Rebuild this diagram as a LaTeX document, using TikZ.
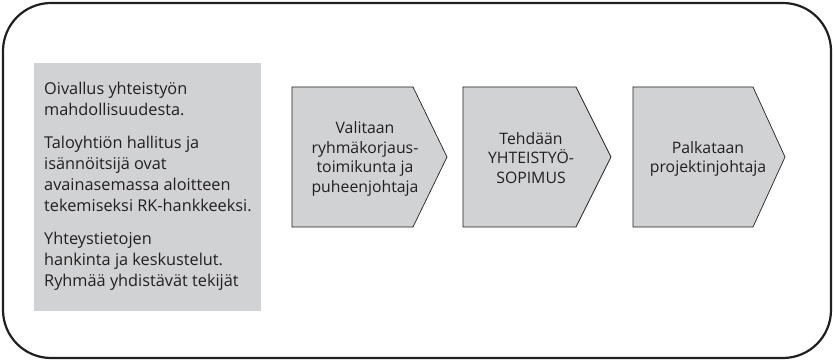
\documentclass[tikz,border=0pt]{standalone}
\usepackage{fontspec}
\setmainfont{Open Sans}
\definecolor{boxgray}{HTML}{D1D2D4}
\definecolor{inkgray}{HTML}{231F20}
\tikzset{
  steptext/.style={align=center, text=inkgray, inner sep=0pt,
    font=\fontsize{15.8}{19.5}\selectfont},
  notetext/.style={align=left, anchor=north west, text=inkgray, inner sep=0pt,
    font=\fontsize{16.3}{21}\selectfont},
}
\begin{document}
\begin{tikzpicture}[x=1pt,y=-1pt]
    \useasboundingbox (0,0) rectangle (834,363);
    % outer frame
    \draw[inkgray, line width=2.2pt, rounded corners=48pt] (3,3) rectangle (831,358);
    % grey note box
    \fill[boxgray] (34,63) rectangle (261,311);
    \node[notetext] (note) at (44,82) {Oivallus yhteistyön\\mahdollisuudesta.\\[12pt]
      Taloyhtiön hallitus ja\\isännöitsijä ovat\\avainasemassa aloitteen\\tekemiseksi RK-hankkeeksi.\\[12pt]
      Yhteystietojen\\hankinta ja keskustelut.\\Ryhmää yhdistävät tekijät};
    % chevrons
    \foreach \x/\r/\t in {292/413/447, 463/576/611, 633/753/785} {
      \draw[inkgray, fill=boxgray, line width=0.7pt]
        (\x,87) -- (\r,87) -- (\t,157) -- (\r,227) -- (\x,227) -- cycle;
    }
    \node[steptext] (valinta) at (365,159) {Valitaan\\ryhmäkorjaus-\\toimikunta ja\\puheenjohtaja};
    \node[steptext] (sopimus) at (531,158) {Tehdään\\YHTEISTYÖ-\\SOPIMUS};
    \node[steptext] (palkkaus) at (708,159) {Palkataan\\projektinjohtaja};
\end{tikzpicture}
\end{document}
